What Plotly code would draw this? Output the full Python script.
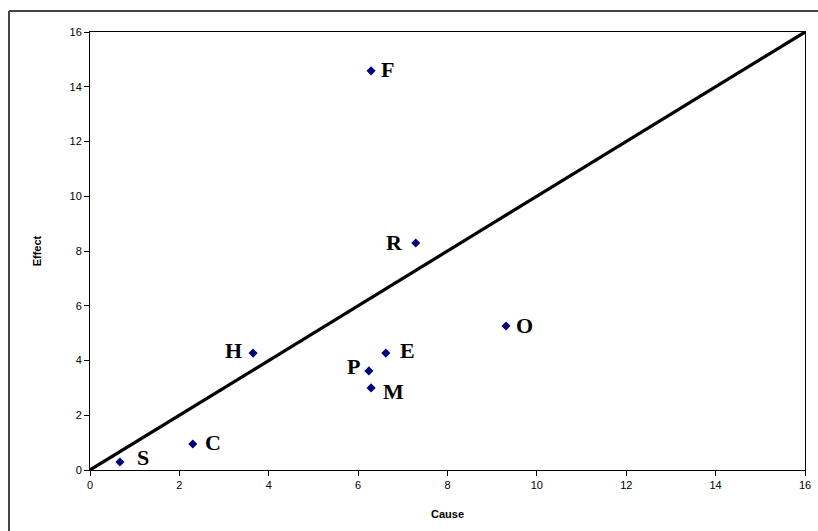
import plotly.graph_objects as go

labels = ["F", "R", "O", "E", "H", "P", "M", "C", "S"]
cause = [6.29, 7.29, 9.31, 6.62, 3.65, 6.24, 6.29, 2.30, 0.67]
effect = [14.58, 8.29, 5.26, 4.27, 4.27, 3.62, 3.00, 0.95, 0.29]
diag_x = [0, 16]
diag_y = [0, 16]
ticks = [0, 2, 4, 6, 8, 10, 12, 14, 16]

# label placement (style only)
label_anchor = ["left", "right", "left", "left", "right", "right", "left", "left", "left"]
label_dx = [8, -11, 8, 12, -9, -7, 10, 10, 15]
label_dy = [1, 1, 1, 3, 3, 4, -4, 1, 5]

fig = go.Figure()
fig.add_trace(go.Scatter(x=diag_x, y=diag_y, mode="lines",
                         line=dict(color="black", width=3.2), hoverinfo="skip"))
fig.add_trace(go.Scatter(x=cause, y=effect, mode="markers",
                         marker=dict(symbol="diamond", size=7, color="#000080")))

annotations = []
for lab, cx, ey, anc, dx, dy in zip(labels, cause, effect, label_anchor, label_dx, label_dy):
    annotations.append(dict(x=cx, y=ey, xref="x", yref="y", text=lab, showarrow=False,
                            xanchor=anc, yanchor="middle", xshift=dx, yshift=dy,
                            font=dict(family="Liberation Serif", size=22, color="black", weight="bold")))

axis_common = dict(range=[0, 16], tickvals=ticks, showgrid=False, zeroline=False,
                   showline=True, linecolor="black", linewidth=1, mirror=True,
                   ticks="outside", ticklen=5, tickcolor="black", ticklabeloverflow="allow",
                   automargin=False,
                   tickfont=dict(family="Liberation Sans", size=11, color="black"))

fig.update_layout(
    width=818, height=531, autosize=False,
    margin=dict(l=90, r=13, t=32, b=61),
    paper_bgcolor="white", plot_bgcolor="white",
    showlegend=False,
    annotations=annotations,
    xaxis=dict(**axis_common, title=dict(text="Cause", font=dict(family="Liberation Sans", size=11, color="black", weight="bold"), standoff=20)),
    yaxis=dict(**axis_common, title=dict(text="Effect", font=dict(family="Liberation Sans", size=11, color="black", weight="bold"), standoff=25)),
    shapes=[
        dict(type="line", xref="paper", yref="paper", x0=-0.1133, y0=-0.5, x1=-0.1133, y1=1.0479,
             line=dict(color="#444444", width=2), layer="below"),
        dict(type="line", xref="paper", yref="paper", x0=-0.1133, y0=1.0479, x1=1.5, y1=1.0479,
             line=dict(color="#444444", width=2), layer="below"),
    ],
)
fig.write_html("out.html",
               config=dict(displayModeBar=False, responsive=False),
               post_script="document.body.style.margin='0';document.body.style.overflow='hidden';")
